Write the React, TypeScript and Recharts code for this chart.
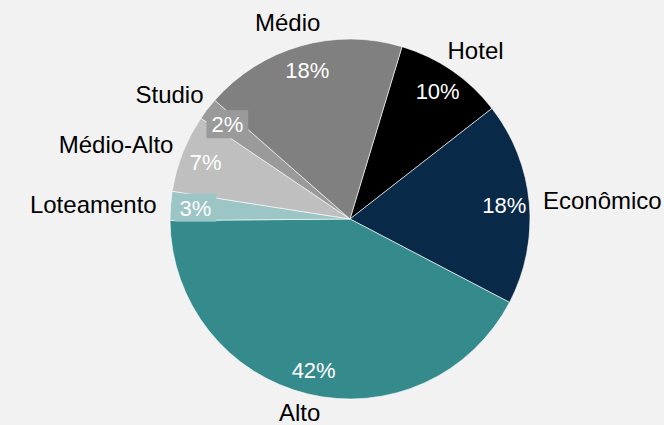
import React from 'react';
import { PieChart, Pie, Cell } from 'recharts';

const categories = ['Hotel', 'Econômico', 'Alto', 'Loteamento', 'Médio-Alto', 'Studio', 'Médio'];
const shares = [9.8, 18.2, 42.2, 2.6, 7.0, 2.0, 18.2];
const colors = ['#000000', '#082a48', '#358a8c', '#9cc5c6', '#bfbfbf', '#9a9a9a', '#808080'];

const data = categories.map((name, i) => ({ name, value: shares[i] }));

const WIDTH = 664;
const HEIGHT = 425;
const FONT = '"Liberation Sans", Arial, sans-serif';
const NAME_SIZE = 24;
const PCT_SIZE = 22;
const RAD = Math.PI / 180;

let ctx: CanvasRenderingContext2D | null = null;
const measure = (text: string, size: number): number => {
  try {
    if (!ctx) ctx = document.createElement('canvas').getContext('2d');
    if (ctx) {
      ctx.font = `${size}px "Liberation Sans", Arial, sans-serif`;
      return ctx.measureText(text).width;
    }
  } catch (e) {
    /* ignore */
  }
  return text.length * size * 0.55;
};

const renderLabel = (props: any) => {
  const { cx, cy, midAngle, outerRadius, percent, name, index } = props;
  const c = Math.cos(midAngle * RAD);
  const s = Math.sin(midAngle * RAD);
  // percentage inside
  const rIn = outerRadius - 25;
  const px = cx + rIn * c;
  const py = cy - rIn * s;
  const pct = `${Math.round(percent * 100)}%`;
  const pw = measure(pct, PCT_SIZE);
  // name outside
  const rOut = outerRadius + 14;
  const nw = measure(name, NAME_SIZE);
  const nx = cx + rOut * c + (c * nw) / 2;
  const nyCenter = cy - rOut * s - s * 10;
  const nBaseline = Math.min(nyCenter + NAME_SIZE * 0.358, HEIGHT - 4);
  const small = percent < 0.05;
  return (
    <g key={`lbl-${index}`}>
      {small && <rect x={px - pw / 2 - 5} y={py - 14} width={pw + 10} height={28} fill={colors[index]} />}
      <text
        x={px}
        y={py + PCT_SIZE * 0.358}
        textAnchor="middle"
        fill="#ffffff"
        fontFamily={FONT}
        fontSize={PCT_SIZE}
      >
        {pct}
      </text>
      <text x={nx} y={nBaseline} textAnchor="middle" fill="#000000" fontFamily={FONT} fontSize={NAME_SIZE}>
        {name}
      </text>
    </g>
  );
};

export default function App() {
  return (
    <div style={{ position: 'fixed', left: 0, top: 0, width: WIDTH, height: HEIGHT, background: '#f2f2f2' }}>
      <PieChart width={WIDTH} height={HEIGHT} margin={{ top: 0, right: 0, bottom: 0, left: 0 }}>
        <Pie
          data={data}
          dataKey="value"
          nameKey="name"
          cx={350}
          cy={219}
          outerRadius={180}
          startAngle={73.2}
          endAngle={-286.8}
          stroke="#ffffff"
          strokeWidth={0.6}
          label={renderLabel}
          labelLine={false}
          isAnimationActive={false}
        >
          {data.map((d, i) => (
            <Cell key={d.name} fill={colors[i]} />
          ))}
        </Pie>
      </PieChart>
    </div>
  );
}
